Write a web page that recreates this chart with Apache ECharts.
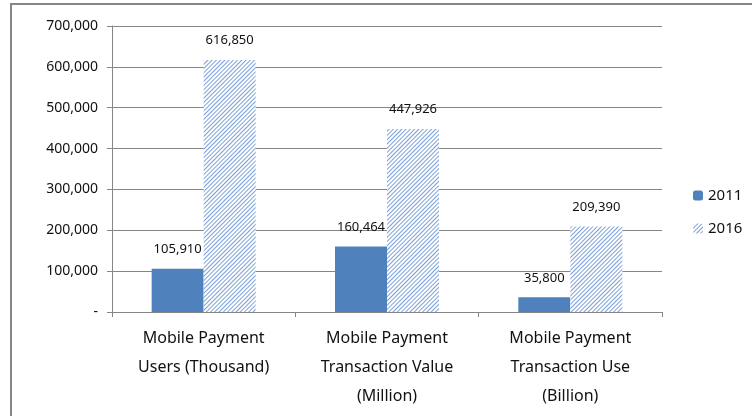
<!DOCTYPE html>
<html>
<head>
<meta charset="utf-8">
<script src="https://cdn.jsdelivr.net/npm/echarts@6/dist/echarts.min.js"></script>
<style>
  html, body { margin: 0; padding: 0; background: #fff; }
  #chart { width: 752px; height: 416px; }
</style>
</head>
<body>
<div id="chart"></div>
<script>
const categories = [
  'Mobile Payment\nUsers (Thousand)',
  'Mobile Payment\nTransaction Value\n(Million)',
  'Mobile Payment\nTransaction Use\n(Billion)'
]
const values2011 = [105910, 160464, 35800]
const values2016 = [616850, 447926, 209390]
const yTicks = [0, 100000, 200000, 300000, 400000, 500000, 600000, 700000]

const fmt = v => (v === 0 ? '-' : v.toLocaleString('en-US'))
const font = 'Noto Sans'

// diagonal hatch for 2016
const hatch = {
  symbol: 'rect',
  symbolSize: 1,
  color: '#7aa0d8',
  dashArrayX: [1, 0],
  dashArrayY: [1, 1.8],
  rotation: -Math.PI / 4
}

const chart = echarts.init(document.getElementById('chart'))
chart.setOption({
  animation: false,
  textStyle: { fontFamily: font },
  graphic: [{
    type: 'rect',
    shape: { x: 11, y: 4, width: 800, height: 500 },
    style: { fill: 'none', stroke: '#868686', lineWidth: 2 },
    silent: true
  }],
  grid: { left: 112, right: 90, top: 26, bottom: 104 },
  legend: {
    orient: 'vertical',
    left: 688,
    top: 183,
    itemWidth: 10,
    itemHeight: 10,
    itemGap: 18,
    textStyle: { fontSize: 15, color: '#111', fontFamily: font },
    data: ['2011', '2016']
  },
  xAxis: {
    type: 'category',
    data: categories,
    axisLine: { lineStyle: { color: '#868686' } },
    axisTick: { show: true, length: 5, lineStyle: { color: '#868686' } },
    axisLabel: {
      color: '#111',
      fontSize: 16,
      lineHeight: 29,
      margin: 12,
      interval: 0
    }
  },
  yAxis: {
    type: 'value',
    min: yTicks[0],
    max: yTicks[yTicks.length - 1],
    interval: 100000,
    axisLine: { show: true, lineStyle: { color: '#868686' } },
    axisTick: { show: true, length: 5, lineStyle: { color: '#868686' } },
    splitLine: { lineStyle: { color: '#868686' } },
    axisLabel: {
      color: '#111',
      fontSize: 14,
      margin: 14,
      formatter: fmt
    }
  },
  series: [
    {
      name: '2011',
      type: 'bar',
      barWidth: 52,
      barGap: '0%',
      data: values2011,
      itemStyle: { color: '#4f81bd' },
      label: {
        show: true,
        position: 'top',
        distance: 13,
        fontSize: 13,
        color: '#111',
        formatter: p => fmt(p.value)
      }
    },
    {
      name: '2016',
      type: 'bar',
      barWidth: 52,
      data: values2016,
      itemStyle: { color: '#ffffff', decal: hatch },
      label: {
        show: true,
        position: 'top',
        distance: 13,
        fontSize: 13,
        color: '#111',
        formatter: p => fmt(p.value)
      }
    }
  ]
})
</script>
</body>
</html>
